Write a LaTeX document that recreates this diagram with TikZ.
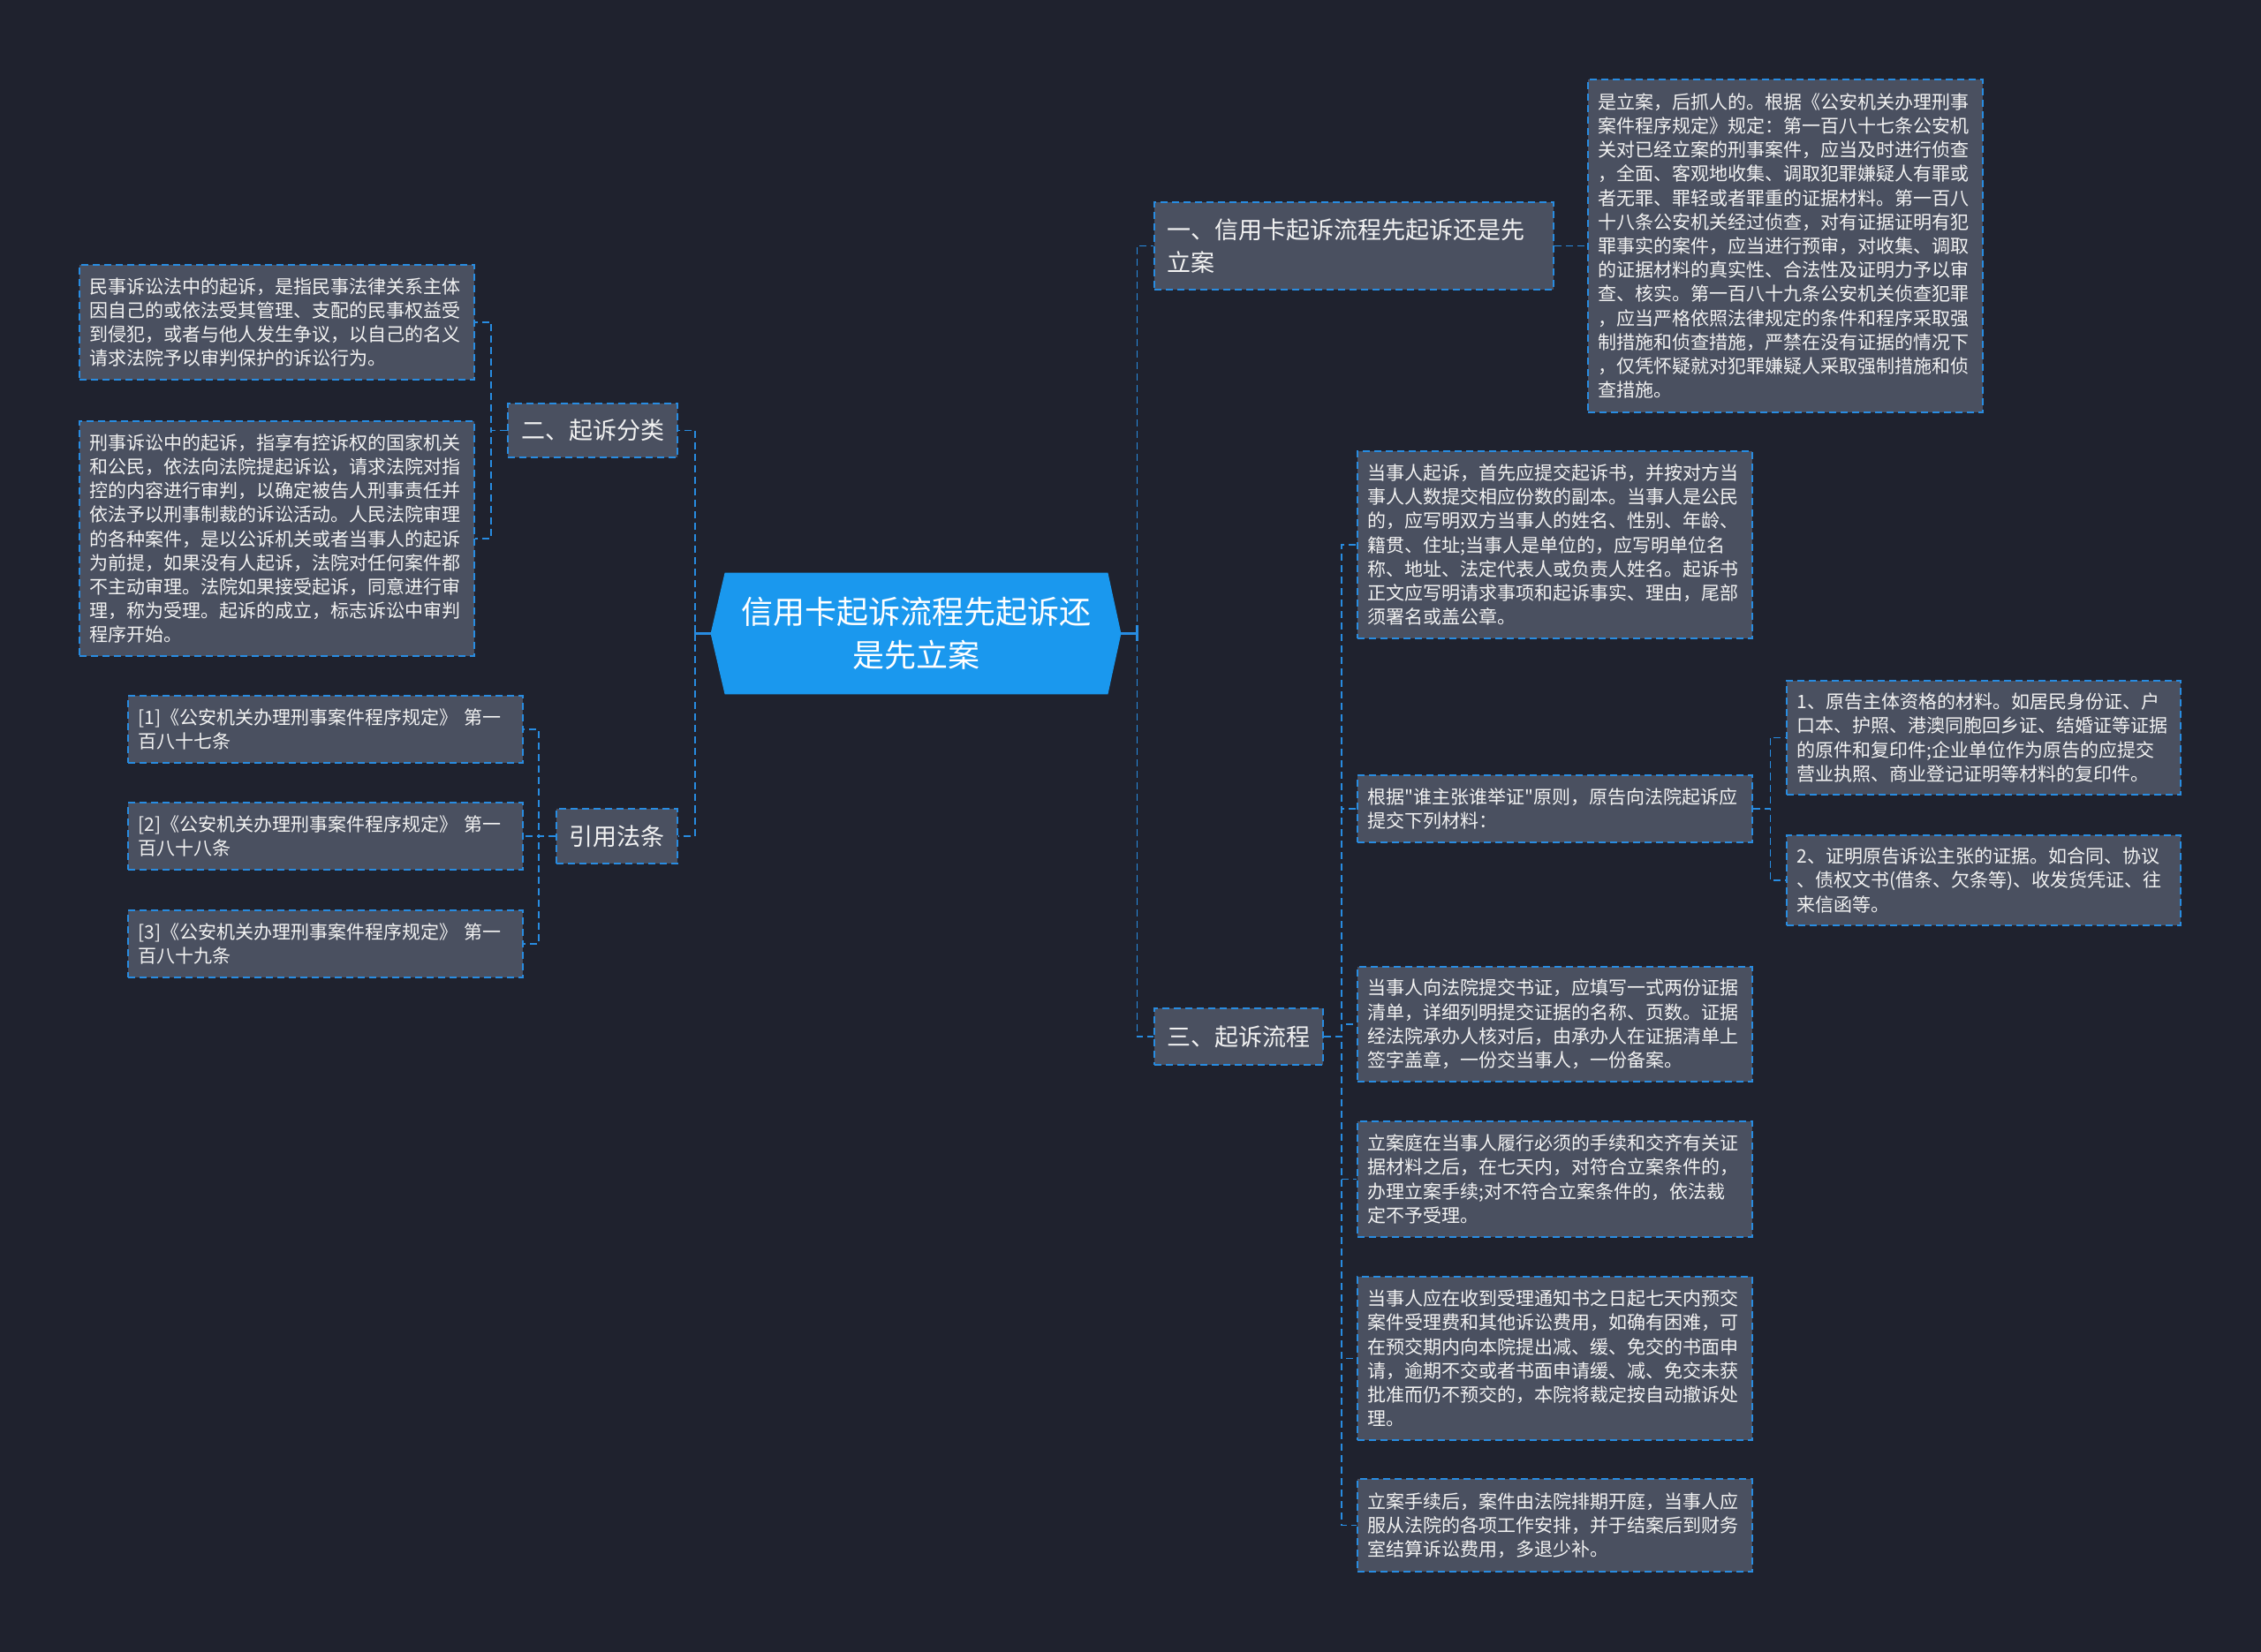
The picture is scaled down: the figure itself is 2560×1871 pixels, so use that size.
\documentclass[tikz,border=0pt]{standalone}
\usepackage{fontspec}
\setmainfont{Noto Sans CJK SC}
\newfontfamily\plainfont{Noto Sans CJK SC}
\usetikzlibrary{calc,backgrounds}
\definecolor{bg}{RGB}{31,34,46}
\definecolor{boxfill}{RGB}{74,80,96}
\definecolor{bblue}{RGB}{40,140,225}
\definecolor{cblue}{RGB}{26,152,238}
\definecolor{txt}{RGB}{242,242,242}
\begin{document}
\begin{tikzpicture}[x=0.5pt,y=-0.5pt,
  tbox/.style={draw=bblue, line width=0.9pt, dash pattern=on 4pt off 2.5pt, fill=boxfill, text=txt,
    font=\fontsize{10.5}{13.6}\selectfont, align=left, text width=212pt, inner xsep=5.75pt, inner ysep=3pt,
    minimum width=223.5pt},
  lonebox/.style={draw=bblue, line width=0.9pt, dash pattern=on 4pt off 2.5pt, fill=boxfill, text=txt,
    font=\fontsize{13.5}{18.5}\selectfont, inner sep=0pt},
  conn/.style={draw=bblue, line width=0.9pt, dash pattern=on 4pt off 2.5pt},
  solidconn/.style={draw=bblue, line width=1.1pt}]

\begin{scope}[on background layer]
  \fill[bg] (0,0) rectangle (2560,1871);
\end{scope}

% central node
\node[font=\fontsize{18}{24.5}\selectfont, text=white, align=center, minimum width=216.5pt,
  minimum height=68.5pt, inner sep=0pt] (c) at (1037.5,717.5) {信用卡起诉流程先起诉还\\是先立案};
\begin{scope}[on background layer]
  \fill[cblue] (c.north west) -- (c.north east) -- ($(c.east)+(15,0)$) -- (c.south east)
    -- (c.south west) -- ($(c.west)+(-16,0)$) -- cycle;
\end{scope}
\coordinate (cl) at ($(c.west)+(-16,0)$);
\coordinate (cr) at ($(c.east)+(15,0)$);

% level 1
\node[lonebox, minimum width=226pt, minimum height=49.5pt, text width=212pt, align=left] (n1) at (1533,278.5)
  {一、信用卡起诉流程先起诉还是先\\立案};
\node[lonebox, minimum width=96pt, minimum height=30.5pt] (n2) at (671,487.5) {二、起诉分类};
\node[lonebox, minimum width=68.5pt, minimum height=31pt] (n4) at (698.5,947) {引用法条};
\node[lonebox, minimum width=95.5pt, minimum height=32pt] (n3) at (1402.5,1174) {三、起诉流程};

% top right big box
\node[tbox, minimum height=188.5pt] (big) at (2021.5,278.5) {是立案，后抓人的。根据《公安机关办理刑事\\
案件程序规定》规定：第一百八十七条公安机\\
关对已经立案的刑事案件，应当及时进行侦查\\
，全面、客观地收集、调取犯罪嫌疑人有罪或\\
者无罪、罪轻或者罪重的证据材料。第一百八\\
十八条公安机关经过侦查，对有证据证明有犯\\
罪事实的案件，应当进行预审，对收集、调取\\
的证据材料的真实性、合法性及证明力予以审\\
查、核实。第一百八十九条公安机关侦查犯罪\\
，应当严格依照法律规定的条件和程序采取强\\
制措施和侦查措施，严禁在没有证据的情况下\\
，仅凭怀疑就对犯罪嫌疑人采取强制措施和侦\\
查措施。};

% left boxes
\node[tbox, minimum height=65pt] (m1) at (313.5,365) {民事诉讼法中的起诉，是指民事法律关系主体\\
因自己的或依法受其管理、支配的民事权益受\\
到侵犯，或者与他人发生争议，以自己的名义\\
请求法院予以审判保护的诉讼行为。};
\node[tbox, minimum height=133pt] (m2) at (313.5,610) {刑事诉讼中的起诉，指享有控诉权的国家机关\\
和公民，依法向法院提起诉讼，请求法院对指\\
控的内容进行审判，以确定被告人刑事责任并\\
依法予以刑事制裁的诉讼活动。人民法院审理\\
的各种案件，是以公诉机关或者当事人的起诉\\
为前提，如果没有人起诉，法院对任何案件都\\
不主动审理。法院如果接受起诉，同意进行审\\
理，称为受理。起诉的成立，标志诉讼中审判\\
程序开始。};

\node[tbox, minimum height=38pt] (r1) at (368.5,826) {[1]《公安机关办理刑事案件程序规定》 第一\\百八十七条};
\node[tbox, minimum height=38pt] (r2) at (368.5,947) {[2]《公安机关办理刑事案件程序规定》 第一\\百八十八条};
\node[tbox, minimum height=38pt] (r3) at (368.5,1069) {[3]《公安机关办理刑事案件程序规定》 第一\\百八十九条};

% right boxes
\node[tbox, minimum height=106pt] (p1) at (1760.5,617) {当事人起诉，首先应提交起诉书，并按对方当\\
事人人数提交相应份数的副本。当事人是公民\\
的，应写明双方当事人的姓名、性别、年龄、\\
籍贯、住址;当事人是单位的，应写明单位名\\
称、地址、法定代表人或负责人姓名。起诉书\\
正文应写明请求事项和起诉事实、理由，尾部\\
须署名或盖公章。};
\node[tbox, minimum height=38pt] (p2) at (1760.5,916) {根据{\plainfont"}谁主张谁举证{\plainfont"}原则，原告向法院起诉应\\提交下列材料：};
\node[tbox, minimum width=223pt, text width=211.5pt, minimum height=64.5pt] (q1) at (2246,835.5) {1、原告主体资格的材料。如居民身份证、户\\
口本、护照、港澳同胞回乡证、结婚证等证据\\
的原件和复印件;企业单位作为原告的应提交\\
营业执照、商业登记证明等材料的复印件。};
\node[tbox, minimum width=223pt, text width=211.5pt, minimum height=51pt] (q2) at (2246,997) {2、证明原告诉讼主张的证据。如合同、协议\\
、债权文书(借条、欠条等)、收发货凭证、往\\
来信函等。};
\node[tbox, minimum height=65pt] (p3) at (1760.5,1160) {当事人向法院提交书证，应填写一式两份证据\\
清单，详细列明提交证据的名称、页数。证据\\
经法院承办人核对后，由承办人在证据清单上\\
签字盖章，一份交当事人，一份备案。};
\node[tbox, minimum height=65.5pt] (p4) at (1760.5,1335.5) {立案庭在当事人履行必须的手续和交齐有关证\\
据材料之后，在七天内，对符合立案条件的，\\
办理立案手续;对不符合立案条件的，依法裁\\
定不予受理。};
\node[tbox, minimum height=92.5pt] (p5) at (1760.5,1538.5) {当事人应在收到受理通知书之日起七天内预交\\
案件受理费和其他诉讼费用，如确有困难，可\\
在预交期内向本院提出减、缓、免交的书面申\\
请，逾期不交或者书面申请缓、减、免交未获\\
批准而仍不预交的，本院将裁定按自动撤诉处\\
理。};
\node[tbox, minimum height=52.5pt] (p6) at (1760.5,1727.5) {立案手续后，案件由法院排期开庭，当事人应\\
服从法院的各项工作安排，并于结案后到财务\\
室结算诉讼费用，多退少补。};

% connectors from centre
\draw[solidconn] (cl) -- ++(-18,0);
\draw[solidconn] ($(cl)+(-18,-9)$) -- ++(0,18);
\draw[conn] ($(cl)+(-18,0)$) |- (n2.east);
\draw[conn] ($(cl)+(-18,0)$) |- (n4.east);
\draw[solidconn] (cr) -- ++(18,0);
\draw[solidconn] ($(cr)+(18,-9)$) -- ++(0,18);
\draw[conn] ($(cr)+(18,0)$) |- (n1.west);
\draw[conn] ($(cr)+(18,0)$) |- (n3.west);

% level 1 to leaves
\draw[conn] (n1.east) -- (big.west);
\draw[conn] (n2.west) -- ++(-18,0) |- (m1.east);
\draw[conn] (n2.west) -- ++(-18,0) |- (m2.east);
\draw[conn] (n4.west) -- ++(-19,0) |- (r1.east);
\draw[conn] (n4.west) -- ++(-19,0) |- (r2.east);
\draw[conn] (n4.west) -- ++(-19,0) |- (r3.east);
\foreach \p in {p1,p2,p3,p4,p5,p6}{
  \draw[conn] (n3.east) -- ++(20,0) |- (\p.west);
}
\draw[conn] (p2.east) -- ++(19.5,0) |- (q1.west);
\draw[conn] (p2.east) -- ++(19.5,0) |- (q2.west);
\end{tikzpicture}
\end{document}
